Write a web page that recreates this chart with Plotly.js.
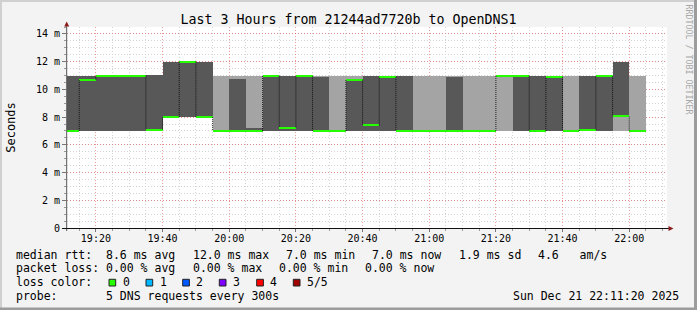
<!DOCTYPE html>
<html><head><meta charset="utf-8">
<script src="https://cdn.plot.ly/plotly-3.0.1.min.js"></script>
<style>html,body{margin:0;padding:0;background:#f3f3f3;overflow:hidden}#chart{width:697px;height:310px}</style>
</head><body><div id="chart"></div>
<script>
// ---- data (5-minute bins, values in ms) ----
const day = "2025-12-21 ";
const binStart = ["19:10","19:15","19:20","19:25","19:30","19:35","19:40","19:45","19:50","19:55",
  "20:00","20:05","20:10","20:15","20:20","20:25","20:30","20:35","20:40","20:45",
  "20:50","20:55","21:00","21:05","21:10","21:15","21:20","21:25","21:30","21:35",
  "21:40","21:45","21:50","21:55","22:00"];
// outer smoke (fastest ping .. slowest ping)
const pingMin = [7,7,7,7,7,7,8,8,8,7, 7,7,7,7,7,7,7,7,7,7, 7,7,7,7,7,7,7,7,7,7, 7,7,7,7,7];
const pingMax = [11,11,11,11,11,11.05,12,12.05,12,11, 11,11,11.05,11,11,11,11,11,11,11,
  11,11,11,11,11,11,11,11.05,11,11, 11,11,11.05,12,11];
// inner smoke (2nd .. 4th ping)
const innerLo = [7,7,7,7,7,7,8,8,8,7, 7,7,7,7,7,7,7,7,7,7, 7,7,7,7,7,7,7,7,7,7, 7,7,7,8.05,7];
const innerHi = [11,11,11,11,11,11.05,12,12.05,12,7, 10.75,7.25,11.05,11,11,10.9,7,10.7,11,11,
  11,7,7,10.9,7,7,7,11.05,11,11, 7,11,11.05,12,7];
const medianRtt = [7.0,10.7,11.0,11.0,11.0,7.1,8.0,12.0,8.0,7.0, 7.0,7.0,11.0,7.25,10.95,7.0,7.0,10.7,7.4,10.9,
  7.0,7.0,7.0,7.0,7.0,7.0,11.0,11.0,7.0,10.9, 7.0,7.1,10.95,8.05,7.0];
const yTickVals = [0,2,4,6,8,10,12,14];
const yTickText = ["0","2 m","4 m","6 m","8 m","10 m","12 m","14 m"];
const lossLabels = ["0","1","2","3","4","5/5"];
const lossColors = ["#26ff00","#00b8ff","#0059ff","#7e00ff","#ff0000","#a00000"];
const rttLegend = ["median rtt:  8.6 ms avg","12.0 ms max","7.0 ms min","7.0 ms now","1.9 ms sd","4.6   am/s"];
const lossLegend = ["packet loss: 0.00 % avg","0.00 % max","0.00 % min","0.00 % now"];
const probeText = "probe:       5 DNS requests every 300s";
const stampText = "Sun Dec 21 22:11:20 2025";

// ---- geometry helpers (decorations only) ----
const W=697,H=310,L=67,R=30,T=27,B=82;
const PW=W-L-R, PH=H-T-B;
const px=x=>(x-L)/PW, py=y=>(H-B-y)/PH;
const MONO="DejaVu Sans Mono, monospace";

const xs = binStart.map(t=>day+t);
const traces = [
  {type:"bar",x:xs,base:pingMin,y:pingMax.map((v,i)=>v-pingMin[i]),width:300000,offset:0,
   marker:{color:"#a4a4a4",line:{width:0}},hoverinfo:"skip"},
  {type:"bar",x:xs,base:innerLo,y:innerHi.map((v,i)=>v-innerLo[i]),width:300000,offset:0,
   marker:{color:"#585858",line:{width:0}},hoverinfo:"skip"},
  {type:"bar",x:xs,base:medianRtt.map(v=>v-0.072),y:medianRtt.map(()=>0.144),width:300000,offset:0,
   marker:{color:lossColors[0],line:{width:0}},hoverinfo:"skip"}
];
const cx=[],cy=[];
for(let i=0;i<medianRtt.length-1;i++){
  if(medianRtt[i]!==medianRtt[i+1]){cx.push(xs[i+1],xs[i+1],null);cy.push(medianRtt[i],medianRtt[i+1],null);}
}
traces.push({type:"scatter",mode:"lines",x:cx,y:cy,line:{color:"rgba(0,0,0,0.8)",width:1,dash:"1px,1px"},hoverinfo:"skip"});

const shapes=[
  {type:"rect",xref:"paper",yref:"paper",x0:px(0),x1:px(W),y0:py(0),y1:py(2),fillcolor:"#d0d0d0",line:{width:0},layer:"below"},
  {type:"rect",xref:"paper",yref:"paper",x0:px(0),x1:px(2),y0:py(0),y1:py(H),fillcolor:"#d0d0d0",line:{width:0},layer:"below"},
  {type:"rect",xref:"paper",yref:"paper",x0:px(0),x1:px(W),y0:py(307.5),y1:py(H),fillcolor:"#9c9c9c",line:{width:0},layer:"below"},
  {type:"rect",xref:"paper",yref:"paper",x0:px(694),x1:px(W),y0:py(0),y1:py(H),fillcolor:"#9c9c9c",line:{width:0},layer:"below"},
  {type:"line",xref:"paper",yref:"paper",x0:px(66.7),x1:px(66.7),y0:py(231),y1:py(25),line:{color:"#555",width:1}},
  {type:"line",xref:"paper",yref:"paper",x0:px(62),x1:px(669),y0:py(228.5),y1:py(228.5),line:{color:"#111",width:1}},
  {type:"path",xref:"paper",yref:"paper",path:`M ${px(64.2)} ${py(26.5)} L ${px(69.2)} ${py(26.5)} L ${px(66.7)} ${py(21.5)} Z`,fillcolor:"#8b1c1c",line:{width:0}},
  {type:"path",xref:"paper",yref:"paper",path:`M ${px(668.5)} ${py(226)} L ${px(668.5)} ${py(231)} L ${px(673.5)} ${py(228.5)} Z`,fillcolor:"#8b1c1c",line:{width:0}}
];
const sqX=[109,146,182.7,219.3,256.7,293.3];
lossColors.forEach((c,i)=>shapes.push({type:"rect",xref:"paper",yref:"paper",x0:px(sqX[i]),x1:px(sqX[i]+6.7),
  y0:py(279.3),y1:py(286),fillcolor:c,line:{color:"#222",width:1}}));

const annotations=[];
function ann(x,y,text,o={}){annotations.push(Object.assign({xref:"paper",yref:"paper",x:px(x),y:py(y),text:text,
  showarrow:false,xanchor:"left",yanchor:"middle",borderpad:0,borderwidth:0,
  font:{family:MONO,size:11.5,color:"#000"}},o));}
[15.5,192.5,286,372,458.5,538].forEach((x,i)=>ann(x,255,rttLegend[i]));
[15.5,192.5,278.5,364.5].forEach((x,i)=>ann(x,268,lossLegend[i]));
ann(15.5,282,"loss color:");
lossLabels.forEach((l,i)=>ann(sqX[i]+13.5,282,l));
ann(15.5,296,probeText);
ann(512.5,296,stampText);
ann(688.5,59,"RRDTOOL / TOBI OETIKER",{xanchor:"center",textangle:90,font:{family:MONO,size:8.3,color:"#a8a8a8"}});

const layout={
  width:W,height:H,margin:{l:L,r:R,t:T,b:B,pad:0},
  paper_bgcolor:"#f3f3f3",plot_bgcolor:"#ffffff",
  showlegend:false,barmode:"overlay",bargap:0,
  title:{text:"Last 3 Hours from 21244ad7720b to OpenDNS1",font:{family:MONO,size:13.3,color:"#000"},
    x:0.5,xref:"container",y:1-19/H,yref:"container",yanchor:"middle"},
  xaxis:{type:"date",range:[day+"19:11:20",day+"22:11:20"],tickformat:"%H:%M",dtick:1200000,tick0:day+"19:20",
    tickfont:{family:MONO,size:10,color:"#000"},ticks:"outside",ticklen:3,tickcolor:"#777",ticklabelstandoff:-2,
    showgrid:true,gridcolor:"rgba(235,90,90,0.6)",griddash:"1px,2px",gridwidth:1,
    minor:{dtick:300000,tick0:day+"19:15",showgrid:true,gridcolor:"#d4d4d4",griddash:"1px,2px",ticks:"outside",ticklen:2,tickcolor:"#999"},
    showline:false,zeroline:false,fixedrange:true},
  yaxis:{range:[0,14.5],tickvals:yTickVals,ticktext:yTickText,tickfont:{family:MONO,size:10,color:"#000"},
    ticks:"outside",ticklen:4,tickcolor:"#777",
    showgrid:true,gridcolor:"rgba(235,90,90,0.6)",griddash:"1px,2px",gridwidth:1,
    minor:{dtick:0.5,showgrid:true,gridcolor:"#d4d4d4",griddash:"1px,2px",ticks:"outside",ticklen:2,tickcolor:"#999"},
    showline:false,zeroline:false,fixedrange:true,
    title:{text:"Seconds",font:{family:MONO,size:12,color:"#000"},standoff:17}},
  shapes:shapes,annotations:annotations
};
Plotly.newPlot("chart",traces,layout,{displayModeBar:false,staticPlot:true});
</script></body></html>
